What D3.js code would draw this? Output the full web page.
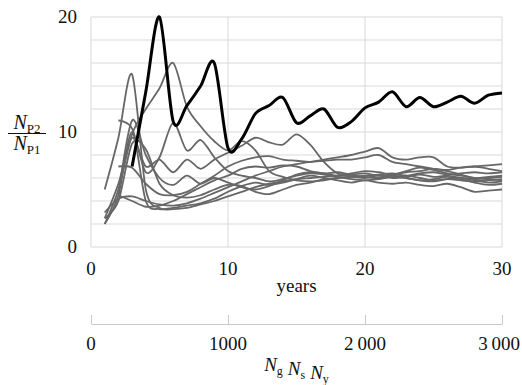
<!DOCTYPE html>
<html>
<head>
<meta charset="utf-8">
<script src="https://cdn.jsdelivr.net/npm/d3@7"></script>
<style>
  body { margin: 0; background: #fff; }
</style>
</head>
<body>
<div id="chart"></div>
<script>
// chart size
var svgWidth = 522;
var svgHeight = 385;
var serif = "'Liberation Serif', 'Times New Roman', Times, 'DejaVu Serif', serif";

// years on the x axis
var years = [1, 2, 3, 4, 5, 6, 7, 8, 9, 10, 11, 12, 13, 14, 15,
             16, 17, 18, 19, 20, 21, 22, 23, 24, 25, 26, 27, 28, 29, 30];

// the highlighted run (thick black)
var blackRun = [null, null, 7.0, 13.5, 20.0, 10.9, 12.3, 14.0, 16.0, 8.6,
                9.4, 11.6, 12.3, 13.0, 10.8, 11.4, 12.0, 10.4, 10.9, 12.1,
                12.6, 13.5, 12.2, 13.0, 12.2, 12.6, 13.1, 12.5, 13.2, 13.4];

// the other runs (grey)
var grey1 = [5.0, 9.5, 15.0, 5.0, 3.4, 3.3, 3.4, 3.7, 4.0, 4.4, 4.8, 5.2, 5.5, 5.7, 5.9,
             6.0, 6.1, 6.2, 6.2, 6.1, 6.0, 6.2, 6.0, 5.8, 5.9, 6.1, 5.9, 5.6, 5.4, 5.5];
var grey2 = [2.0, 5.0, 9.8, 12.0, 13.8, 16.0, 12.2, 10.5, 9.2, 8.4, 9.2, 8.4, 6.6, 6.1, 5.8,
             5.7, 5.8, 6.0, 6.1, 6.2, 6.3, 6.4, 6.2, 6.4, 6.5, 6.3, 6.4, 6.5, 6.4, 6.5];
var grey3 = [null, 11.0, 10.3, 6.5, 7.8, 10.8, 8.4, 9.3, 7.8, 6.6, 6.2, 6.0, 5.7, 5.9, 6.2,
             6.4, 6.3, 6.1, 5.9, 5.8, 5.9, 6.1, 6.0, 5.8, 5.7, 5.9, 5.8, 5.7, 5.8, 5.9];
var grey4 = [2.5, 5.5, 9.5, 7.0, 7.6, 6.5, 7.6, 6.8, 7.6, 8.2, 8.8, 9.5, 9.1, 8.9, 9.8,
             8.9, 7.4, 6.4, 6.2, 6.1, 6.0, 6.1, 6.2, 6.0, 5.8, 5.9, 6.0, 5.8, 5.6, 5.7];
var grey5 = [null, 7.0, 6.9, 5.5, 4.6, 4.5, 4.8, 5.5, 6.2, 7.0, 7.5, 7.8, 7.9, 7.6, 7.5,
             7.4, 7.6, 7.8, 8.0, 8.3, 8.6, 7.8, 7.6, 7.8, 7.8, 7.0, 6.9, 7.0, 7.1, 7.2];
var grey6 = [3.0, 4.2, 4.4, 4.0, 3.7, 3.6, 3.8, 4.2, 4.7, 5.2, 5.7, 6.2, 6.6, 7.0, 7.2,
             7.4, 7.5, 7.6, 7.6, 7.8, 8.0, 7.4, 7.2, 7.0, 6.8, 6.7, 6.9, 7.0, 6.8, 6.6];
var grey7 = [2.0, 4.5, 10.0, 4.0, 3.3, 3.4, 3.6, 3.8, 4.2, 4.8, 5.3, 5.6, 5.4, 5.6, 5.9,
             6.2, 6.0, 5.8, 5.6, 5.8, 5.6, 5.5, 5.6, 5.4, 5.3, 5.5, 5.2, 4.8, 4.9, 5.0];
var grey8 = [null, 4.5, 11.0, 8.0, 6.0, 5.4, 6.2, 5.5, 6.0, 5.6, 5.2, 5.0, 5.3, 5.8, 6.3,
             6.5, 6.4, 6.2, 6.4, 6.6, 6.5, 6.3, 6.5, 6.6, 6.8, 6.6, 6.3, 6.0, 6.1, 6.2];
var grey9 = [2.5, 4.0, 9.0, 8.5, 5.5, 4.5, 4.3, 4.5, 5.0, 5.4, 5.3, 4.8, 4.6, 5.0, 5.4,
             5.6, 5.9, 6.0, 6.1, 6.0, 6.2, 6.0, 6.1, 6.3, 6.1, 6.2, 6.0, 5.9, 6.0, 6.1];
var grey10 = [null, 4.5, 4.0, 3.5, 3.6, 4.0, 4.6, 5.2, 5.8, 6.2, 6.8, 7.0, 6.9, 7.1, 7.0,
              6.6, 6.4, 6.5, 6.3, 6.4, 6.2, 6.3, 6.6, 6.9, 6.7, 6.4, 6.2, 6.0, 5.9, 5.8];
var greyRuns = [grey1, grey2, grey3, grey4, grey5, grey6, grey7, grey8, grey9, grey10];

// tick labels
var yearTicks = [0, 10, 20, 30];
var ratioTicks = [0, 10, 20];
var gridTicks = [0, 2, 4, 6, 8, 10, 12, 14, 16, 18, 20];
var countTicks = [0, 1000, 2000, 3000];
var countLabels = ["0", "1000", "2\u2009000", "3\u2009000"];

var plot = { left: 91, right: 502, top: 17, bottom: 247 };

var svg = d3.select("#chart")
  .append("svg")
  .attr("width", svgWidth)
  .attr("height", svgHeight)
  .attr("font-family", serif)
  .style("font-family", serif);

var xScale = d3.scaleLinear().domain([0, 30]).range([plot.left, plot.right]);
var yScale = d3.scaleLinear().domain([0, 20]).range([plot.bottom, plot.top]);
var nScale = d3.scaleLinear().domain([0, 3000]).range([plot.left, plot.right]);

// gridlines
svg.append("g")
  .selectAll("line")
  .data(gridTicks)
  .enter()
  .append("line")
  .attr("x1", plot.left)
  .attr("x2", plot.right)
  .attr("y1", function(d) { return yScale(d); })
  .attr("y2", function(d) { return yScale(d); })
  .attr("stroke", "#d9d9d9")
  .attr("stroke-width", 1);

svg.append("g")
  .selectAll("line")
  .data(yearTicks)
  .enter()
  .append("line")
  .attr("x1", function(d) { return xScale(d); })
  .attr("x2", function(d) { return xScale(d); })
  .attr("y1", plot.top)
  .attr("y2", plot.bottom)
  .attr("stroke", "#d9d9d9")
  .attr("stroke-width", 1);

// y tick labels
svg.append("g")
  .selectAll("text")
  .data(ratioTicks)
  .enter()
  .append("text")
  .attr("x", 77)
  .attr("y", function(d) { return yScale(d) + 6; })
  .attr("text-anchor", "end")
  .attr("fill", "#111")
  .style("font-size", "19px")
  .text(function(d) { return d; });

// x tick labels (years)
svg.append("g")
  .selectAll("text")
  .data(yearTicks)
  .enter()
  .append("text")
  .attr("x", function(d) { return xScale(d); })
  .attr("y", 275)
  .attr("text-anchor", "middle")
  .attr("fill", "#111")
  .style("font-size", "19px")
  .text(function(d) { return d; });

svg.append("text")
  .attr("x", (plot.left + plot.right) / 2)
  .attr("y", 292)
  .attr("text-anchor", "middle")
  .attr("fill", "#111")
  .style("font-size", "19px")
  .text("years");

// the lines, smoothed like a spreadsheet chart
var line = d3.line()
  .defined(function(d) { return d != null; })
  .x(function(d, i) { return xScale(years[i]); })
  .y(function(d) { return yScale(d); })
  .curve(d3.curveCardinal.tension(0.1));

svg.append("g")
  .selectAll("path")
  .data(greyRuns)
  .enter()
  .append("path")
  .attr("d", line)
  .attr("fill", "none")
  .attr("stroke", "#676767")
  .attr("stroke-width", 1.8);

svg.append("path")
  .attr("d", line(blackRun))
  .attr("fill", "none")
  .attr("stroke", "#000")
  .attr("stroke-width", 3);

// second axis: Ng Ns Ny
var nAxis = d3.axisTop(nScale)
  .tickValues(countTicks)
  .tickSize(9)
  .tickSizeOuter(0)
  .tickFormat("");

var nAxisG = svg.append("g")
  .attr("transform", "translate(0,324)")
  .call(nAxis);
nAxisG.selectAll("path, line").attr("stroke", "#c8c8c8");

svg.append("g")
  .selectAll("text")
  .data(countTicks)
  .enter()
  .append("text")
  .attr("x", function(d) { return nScale(d); })
  .attr("y", 350)
  .attr("text-anchor", function(d, i) { return i === countTicks.length - 1 ? "end" : "middle"; })
  .attr("dx", function(d, i) { return i === countTicks.length - 1 ? 18 : 0; })
  .attr("fill", "#111")
  .style("font-size", "19px")
  .text(function(d, i) { return countLabels[i]; });

var nTitle = svg.append("text")
  .attr("x", (plot.left + plot.right) / 2)
  .attr("y", 371)
  .attr("text-anchor", "middle")
  .attr("fill", "#111")
  .style("font-size", "19px");
[["N", "g"], ["N", "s"], ["N", "y"]].forEach(function(p, i) {
  nTitle.append("tspan").attr("dx", i ? 5 : 0).style("font-style", "italic").text(p[0]);
  nTitle.append("tspan").attr("dy", 4).style("font-size", "12px").text(p[1]);
  nTitle.append("tspan").attr("dy", -4).text("");
});

// y label as a fraction
var frac = svg.append("g");
var num = frac.append("text").attr("x", 27).attr("y", 129).attr("text-anchor", "middle")
  .attr("fill", "#111").style("font-size", "20px");
num.append("tspan").style("font-style", "italic").text("N");
num.append("tspan").attr("dy", 4).style("font-size", "13px").text("P2");
frac.append("line")
  .attr("x1", 8).attr("x2", 46)
  .attr("y1", 133.5).attr("y2", 133.5)
  .attr("stroke", "#111").attr("stroke-width", 1);
var den = frac.append("text").attr("x", 27).attr("y", 150).attr("text-anchor", "middle")
  .attr("fill", "#111").style("font-size", "20px");
den.append("tspan").style("font-style", "italic").text("N");
den.append("tspan").attr("dy", 4).style("font-size", "13px").text("P1");
</script>
</body>
</html>
